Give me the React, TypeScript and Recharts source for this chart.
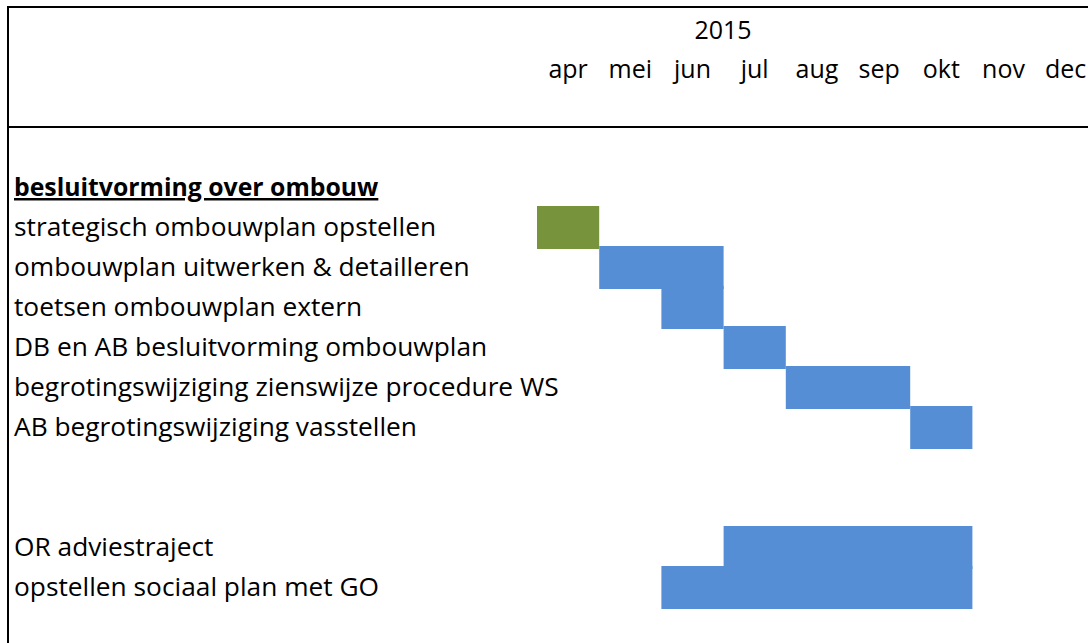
import React from 'react';
import { BarChart, Bar, XAxis, YAxis, Cell } from 'recharts';

const year = '2015';
const months = ['apr', 'mei', 'jun', 'jul', 'aug', 'sep', 'okt', 'nov', 'dec'];
const taskLabels = [
  'besluitvorming over ombouw',
  'strategisch ombouwplan opstellen',
  'ombouwplan uitwerken & detailleren',
  'toetsen ombouwplan extern',
  'DB en AB besluitvorming ombouwplan',
  'begrotingswijziging zienswijze procedure WS',
  'AB begrotingswijziging vasstellen',
  '',
  '',
  'OR adviestraject',
  'opstellen sociaal plan met GO',
];
// start month index (0 = apr) and duration in months
const taskStarts = [0, 0, 1, 2, 3, 4, 6, 0, 0, 3, 2];
const taskDurations = [0, 1, 2, 1, 1, 2, 1, 0, 0, 4, 5];
const taskColors = ['#558ED5', '#77933C', '#558ED5', '#558ED5', '#558ED5', '#558ED5', '#558ED5', '#558ED5', '#558ED5', '#558ED5', '#558ED5'];

const data = taskLabels.map((label, i) => ({
  key: 'r' + i,
  label,
  start: taskStarts[i],
  dur: taskDurations[i],
}));

const FONT = '"Open Sans", Lato, sans-serif';
const FS = 25;
const FS_LABEL = 26.3;
const FS_HEADER = 24.8;
const monthTicks = months.map((_, i) => i + 0.5);

const YTick = (props: any) => {
  const { y, payload } = props;
  const idx = Number(String(payload.value).slice(1));
  const label = taskLabels[idx];
  const isHeader = idx === 0;
  return (
    <text
      x={14}
      y={y}
      dy={8.5}
      textAnchor="start"
      fontFamily={FONT}
      fontSize={isHeader ? FS_HEADER : FS_LABEL}
      fontWeight={isHeader ? 700 : 400}
      textDecoration={isHeader ? 'underline' : undefined}
      fill="#000"
    >
      {label}
    </text>
  );
};

const BarShape = (props: any) => {
  const { x, y, width, height, fill } = props;
  if (!width || width <= 0) return <g />;
  return <rect x={x} y={y - 1.5} width={width} height={height + 3} fill={fill} />;
};

export default function App() {
  return (
    <div style={{ position: 'relative', width: 1088, height: 643, overflow: 'hidden', fontFamily: FONT, background: '#fff' }}>
      <style>{'html,body{margin:0;padding:0;overflow:hidden;background:#fff}'}</style>
      <div style={{ position: 'absolute', left: 0, top: 0, width: 1088, height: 643 }}>
        <BarChart
          width={1098}
          height={643}
          data={data}
          layout="vertical"
          margin={{ top: 17.5, right: 1.2, bottom: 35.5, left: 0 }}
          barCategoryGap={0}
        >
          <XAxis
            type="number"
            orientation="top"
            domain={[0, 9]}
            ticks={monthTicks}
            tickFormatter={(v: number) => months[Math.floor(v)]}
            axisLine={false}
            tickLine={false}
            tickSize={0}
            tickMargin={90}
            height={150}
            interval={0}
            tick={{ fontSize: FS, fill: '#000', fontFamily: FONT }}
            allowDataOverflow
          />
          <YAxis
            type="category"
            dataKey="key"
            width={537}
            axisLine={false}
            tickLine={false}
            interval={0}
            tick={<YTick />}
          />
          <Bar dataKey="start" stackId="a" fill="transparent" isAnimationActive={false} />
          <Bar dataKey="dur" stackId="a" isAnimationActive={false} shape={<BarShape />}>
            {data.map((d, i) => (
              <Cell key={d.key} fill={taskColors[i]} />
            ))}
          </Bar>
        </BarChart>
      </div>
      <div style={{ position: 'absolute', left: 7, top: 6, width: 2, height: 637, background: '#000' }} />
      <div style={{ position: 'absolute', left: 7, top: 6, width: 1081, height: 2, background: '#000' }} />
      <div style={{ position: 'absolute', left: 7, top: 126, width: 1081, height: 2, background: '#000' }} />
      <div
        style={{
          position: 'absolute',
          left: 673,
          top: 14,
          width: 100,
          textAlign: 'center',
          fontSize: FS,
          lineHeight: '30px',
          color: '#000',
        }}
      >
        {year}
      </div>
    </div>
  );
}
